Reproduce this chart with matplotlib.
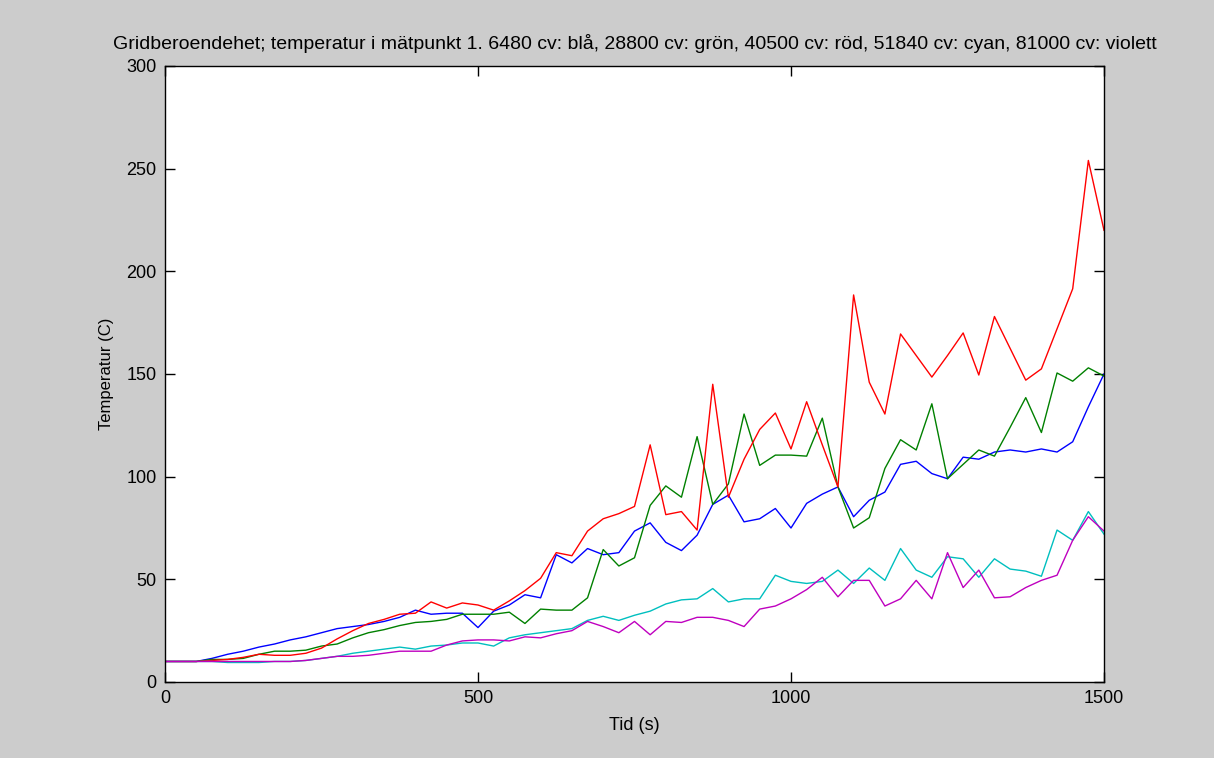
import matplotlib
matplotlib.use("Agg")
import matplotlib.pyplot as plt
import numpy as np

# tidpunkter, var 25:e sekund
tid = np.arange(0, 1501, 25)

# 6480 cv
bla = [10, 10, 10, 11.5, 13.5, 15, 17, 18.5, 20.5, 22, 24, 26, 27, 28, 29.5, 31.5,
       35, 33, 33.5, 33.5, 26.5, 34.5, 37.5, 42.5, 41, 62, 58, 65, 62, 63, 73.5,
       77.5, 68, 64, 71.5, 86.5, 91, 78, 79.5, 84.5, 75, 87, 91.5, 95, 80.5, 88.5,
       92.5, 106, 107.5, 101.5, 99, 109.5, 108.5, 112, 113, 112, 113.5, 112, 117,
       134, 150]
# 28800 cv
gron = [10, 10, 10, 11, 11, 11.5, 13.5, 15, 15, 15.5, 17.5, 18.5, 21.5, 24, 25.5,
        27.5, 29, 29.5, 30.5, 33, 33, 33, 34, 28.5, 35.5, 35, 35, 41, 64.5, 56.5,
        60.5, 86, 95.5, 90, 119.5, 86.5, 96.5, 130.5, 105.5, 110.5, 110.5, 110,
        128.5, 95, 75, 80, 104, 118, 113, 135.5, 99, 106, 113, 110, 124, 138.5,
        121.5, 150.5, 146.5, 153, 149]
# 40500 cv
rod = [10, 10, 10, 10.5, 11, 12, 13.5, 13, 13, 14, 16.5, 21, 25, 28.5, 30.5, 33,
       33.5, 39, 36, 38.5, 37.5, 35, 39.5, 44.5, 50.5, 63, 61.5, 73.5, 79.5, 82,
       85.5, 115.5, 81.5, 83, 74, 145, 90, 108.5, 123, 131, 113.5, 136.5, 115.5,
       95, 188.5, 146, 130.5, 169.5, 159, 148.5, 159, 170, 149.5, 178, 162.5, 147,
       152.5, 172, 191.5, 254, 220]
# 51840 cv
cyan = [10, 10, 10, 10, 9.5, 9.5, 9.5, 10, 10, 10.5, 11.5, 12.5, 14, 15, 16, 17,
        16, 17.5, 18, 19, 19, 17.5, 21.5, 23, 24, 25, 26, 30, 32, 30, 32.5, 34.5,
        38, 40, 40.5, 45.5, 39, 40.5, 40.5, 52, 49, 48, 49, 54.5, 48, 55.5, 49.5,
        65, 54.5, 51, 61, 60, 51, 60, 55, 54, 51.5, 74, 69, 83, 72]
# 81000 cv
violett = [10, 10, 10, 10, 10, 10, 10, 10, 10, 10.5, 11.5, 12.5, 12.5, 13, 14, 15,
           15, 15, 18, 20, 20.5, 20.5, 20, 22, 21.5, 23.5, 25, 29.5, 27, 24, 29.5,
           23, 29.5, 29, 31.5, 31.5, 30, 27, 35.5, 37, 40.5, 45, 51, 41.5, 49.5,
           49.5, 37, 40.5, 49.5, 40.5, 63, 46, 54.5, 41, 41.5, 46, 49.5, 52, 69,
           80.5, 73.5]

serier = [bla, gron, rod, cyan, violett]
farger = [(0, 0, 1), (0, 0.5, 0), (1, 0, 0), (0, 0.75, 0.75), (0.75, 0, 0.75)]

plt.rcParams['font.family'] = ['Liberation Sans', 'DejaVu Sans']
plt.rcParams['font.size'] = 13

fig = plt.figure(figsize=(12.14, 7.58), dpi=100, facecolor='#cccccc')
ax = fig.add_axes([165/1214, 1 - 682/758, (1104 - 165)/1214, (682 - 66)/758])
ax.set_facecolor('white')

for y, c in zip(serier, farger):
    ax.plot(tid, y, color=c, linewidth=1.0)

ax.set_xlim(0, 1500)
ax.set_ylim(0, 300)
ax.set_xticks([0, 500, 1000, 1500])
ax.set_yticks(range(0, 301, 50))
ax.tick_params(direction='in', length=7, width=1, top=True, right=True,
               pad=6, colors='black', labelsize=13)
for s in ax.spines.values():
    s.set_linewidth(1.0)

ax.set_xlabel('Tid (s)', labelpad=7, fontsize=13)
ax.set_ylabel('Temperatur (C)', labelpad=9, fontsize=12)
ax.set_title('Gridberoendehet; temperatur i mätpunkt 1. 6480 cv: blå, 28800 cv: grön, '
             '40500 cv: röd, 51840 cv: cyan, 81000 cv: violett', pad=12, fontsize=14)

fig.savefig('out.png', dpi=100, facecolor=fig.get_facecolor())
